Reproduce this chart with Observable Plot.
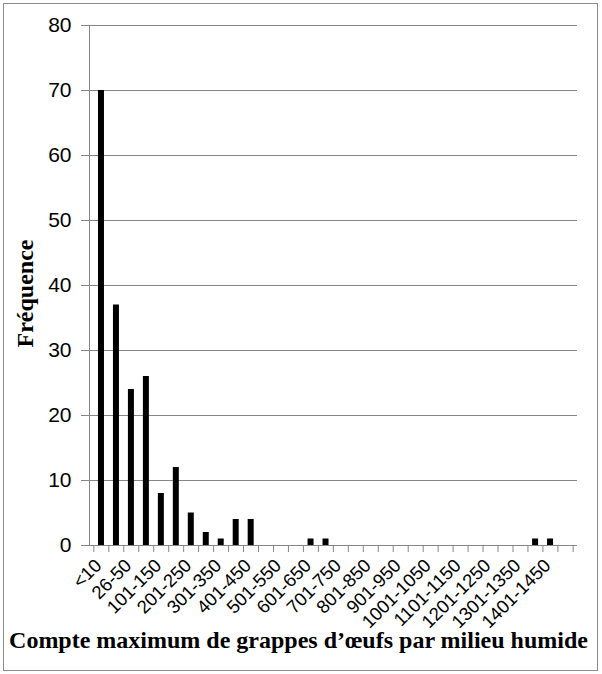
<!DOCTYPE html>
<html><head><meta charset="utf-8">
<script src="https://cdn.jsdelivr.net/npm/d3@7"></script>
<script src="https://cdn.jsdelivr.net/npm/@observablehq/plot@0.6"></script>
<style>
body{margin:0;background:#fff}
#wrap{position:relative;width:602px;height:674px}
#border{position:absolute;left:3px;top:3px;width:593px;height:666px;border:1px solid #8c8c8c;pointer-events:none}
#wrap svg{position:absolute;left:0;top:0}
</style>
</head><body><div id="wrap"><div id="border"></div></div>
<script>
const categories = ["<10","10-25","26-50","51-100","101-150","151-200","201-250","251-300","301-350","351-400","401-450","451-500","501-550","551-600","601-650","651-700","701-750","751-800","801-850","851-900","901-950","951-1000","1001-1050","1051-1100","1101-1150","1151-1200","1201-1250","1251-1300","1301-1350","1351-1400","1401-1450","1451-1500"];
const counts = [70,37,24,26,8,12,5,2,1,4,4,0,0,0,1,1,0,0,0,0,0,0,0,0,0,0,0,0,0,1,1,0];
const shownLabels = ["<10","26-50","101-150","201-250","301-350","401-450","501-550","601-650","701-750","801-850","901-950","1001-1050","1101-1150","1201-1250","1301-1350","1401-1450"];
const yTicks = [0,10,20,30,40,50,60,70,80];
const xTitle = "Compte maximum de grappes d’œufs par milieu humide";
const yTitle = "Fréquence";

const data = categories.map((c, i) => ({category: c, count: counts[i]}));
const W = 602, H = 674, mL = 89, mR = 25, mT = 25, mB = 129;
const step = (W - mL - mR) / categories.length;
const gray = "#868686";
const serif = "'Liberation Serif','Times New Roman',serif";

const chart = Plot.plot({
  width: W, height: H,
  marginLeft: mL, marginRight: mR, marginTop: mT, marginBottom: mB,
  style: {background: "transparent", fontFamily: "'Liberation Sans',Arial,sans-serif", color: "#000"},
  x: {domain: categories, padding: 0.6, align: 0.5},
  y: {domain: [0, 80]},
  marks: [
    Plot.gridY(yTicks, {stroke: gray, strokeOpacity: 1}),
    Plot.frame({anchor: "left", stroke: gray}),
    Plot.axisY(yTicks, {tickSize: 8, tickPadding: 10, fontSize: 21, label: null, stroke: gray, fill: "#000"}),
    Plot.axisX(categories, {tickSize: 7, tickFormat: () => "", dx: -step / 2, stroke: gray, label: null}),
    Plot.axisX([categories[categories.length - 1]], {tickSize: 7, tickFormat: () => "", dx: step / 2, stroke: gray, label: null}),
    Plot.axisX(shownLabels, {tickSize: 0, tickPadding: 17, dx: -3, tickRotate: -45, fontSize: 18.5, label: null, fill: "#000"}),
    Plot.barY(data.filter(d => d.count > 0), {x: "category", y: "count", fill: "#000"}),
    Plot.text([xTitle], {frameAnchor: "bottom", lineAnchor: "middle", textAnchor: "middle", dy: 95, dx: -35, fontSize: 24, fontWeight: "bold", fontFamily: serif, fill: "#000"}),
    Plot.text([yTitle], {frameAnchor: "left", textAnchor: "middle", rotate: -90, dx: -64, dy: 8, fontSize: 24, fontWeight: "bold", fontFamily: serif, fill: "#000"})
  ]
});
document.getElementById("wrap").prepend(chart);
</script>
</body></html>
